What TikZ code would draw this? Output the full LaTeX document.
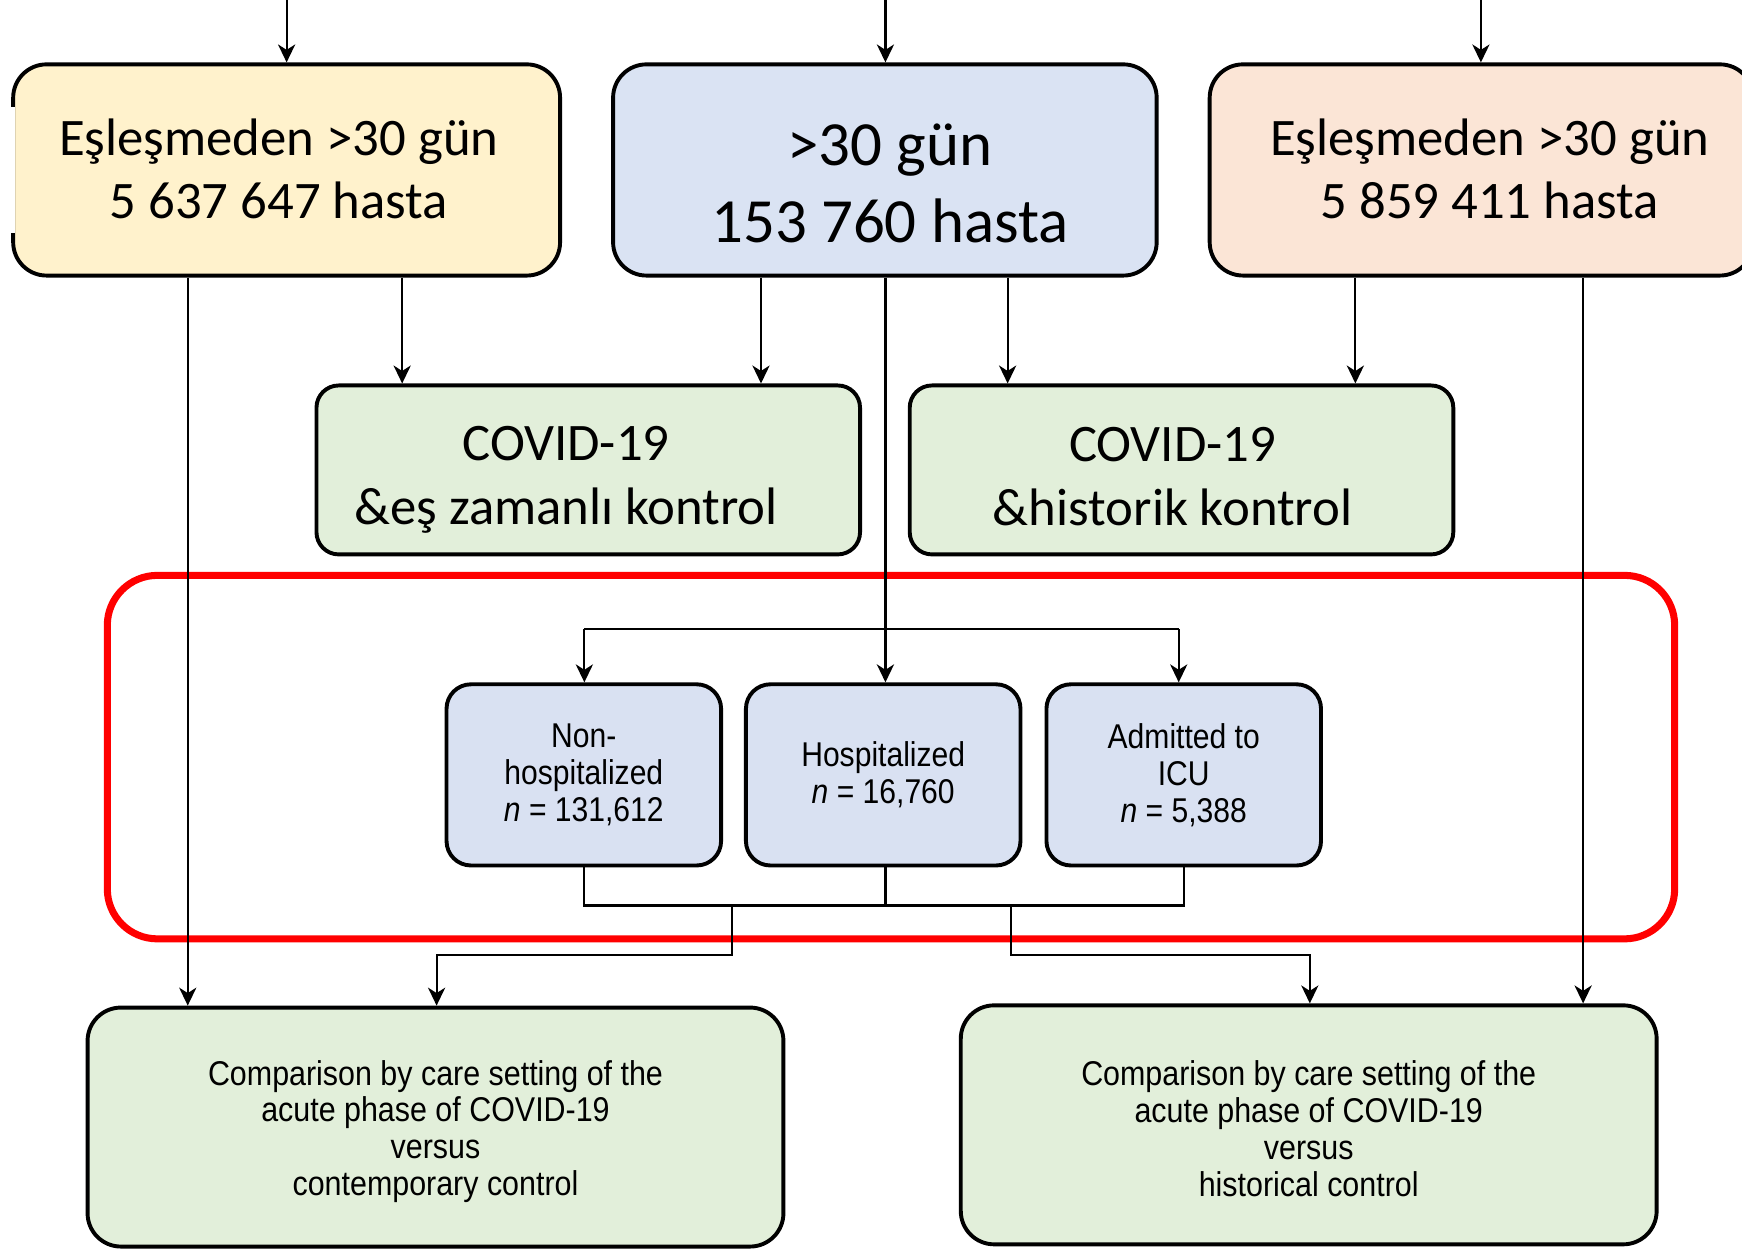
\documentclass[tikz,border=0pt]{standalone}
\usepackage{fontspec}
\setmainfont{Carlito}
\newfontfamily\arialn[FakeStretch=0.875]{Liberation Sans}
\newfontfamily\arialnb[FakeStretch=0.885]{Liberation Sans}
\usetikzlibrary{arrows.meta}
\definecolor{cyellow}{HTML}{FFF2CC}
\definecolor{cblue}{HTML}{DAE3F3}
\definecolor{cpeach}{HTML}{FBE5D6}
\definecolor{cgreen}{HTML}{E2EFDA}
\definecolor{csmall}{HTML}{D9E1F2}
\definecolor{cred}{HTML}{FF0000}
\begin{document}
\begin{tikzpicture}[x=0.01cm,y=-0.01cm,
  box/.style={draw=black, line width=1pt, inner sep=0pt},
  topbox/.style={box, rounded corners=0.3cm, minimum height=1.90cm},
  midbox/.style={box, rounded corners=0.2cm, fill=cgreen, minimum width=4.89cm, minimum height=1.52cm},
  smallbox/.style={box, rounded corners=0.22cm, fill=csmall, minimum width=2.47cm, minimum height=1.63cm,
     font=\arialn\fontsize{8.8}{9.5}\selectfont, align=center},
  botbox/.style={box, rounded corners=0.3cm, fill=cgreen, minimum width=6.26cm, minimum height=2.15cm},
  bottxt/.style={inner sep=0pt, align=center, font=\arialnb\fontsize{8.8}{9.45}\selectfont},
  ttxt/.style={inner sep=0pt, align=center, font=\fontsize{13.5}{16.2}\selectfont},
  btxt/.style={inner sep=0pt, align=center, font=\fontsize{16.1}{19.6}\selectfont},
  grp/.style={draw=cred, line width=1.8pt, rounded corners=0.45cm, minimum width=14.10cm, minimum height=3.27cm, inner sep=0pt},
  ln/.style={line width=0.55pt},
  arr/.style={ln, -{Stealth[length=4.6pt, width=4.4pt, inset=1.4pt]}}]
\useasboundingbox (0,0) rectangle (1568,1128);
\clip (0,0) rectangle (1568,1128);
\fill[white] (0,0) rectangle (1568,1128);

% red group frame (behind the connectors)
\node[grp] (grp) at (802,681.5) {};

% top boxes
\node[topbox, fill=cyellow, minimum width=4.92cm] (A) at (258,153) {};
\fill[white] (9,96) rectangle (13.6,210);
\node[ttxt] (At) at (251,152) {Eşleşmeden >30 gün\\5 637 647 hasta};
\node[topbox, fill=cblue, minimum width=4.89cm] (B) at (796.5,153) {};
\node[btxt] (Bt) at (801,165) {>30 gün\\153 760 hasta};
\node[topbox, fill=cpeach, minimum width=4.89cm] (C) at (1333.5,153) {};
\node[ttxt] (Ct) at (1341,152) {Eşleşmeden >30 gün\\5 859 411 hasta};

% middle boxes
\node[midbox] (D) at (529.5,423) {};
\node[ttxt] (Dt) at (509.5,432) {COVID-19\\\&eş zamanlı kontrol};
\node[midbox] (E) at (1063.5,423) {};
\node[ttxt] (Et) at (1055.5,429) {COVID-19\\\&historik kontrol};

% care-setting boxes
\node[smallbox] (F) at (525.5,697.5) {Non-\\hospitalized\\\textit{n} = 131,612};
\node[smallbox] (G) at (795,697.5) {Hospitalized\\\textit{n} = 16,760};
\node[smallbox] (H) at (1065.5,697.5) {Admitted to\\ICU\\\textit{n} = 5,388};

% bottom boxes
\node[botbox] (I) at (392,1014.5) {};
\node[bottxt] (It) at (392,1018.5) {Comparison by care setting of the\\acute phase of COVID-19\\versus\\contemporary control};
\node[botbox] (J) at (1178,1012.5) {};
\node[bottxt] (Jt) at (1178,1016) {Comparison by care setting of the\\acute phase of COVID-19\\versus\\historical control};

% helper coordinates
\coordinate (t1) at (258,0);
\coordinate (t2) at (797,0);
\coordinate (t3) at (1333,0);
\coordinate (xa1) at (169,0);
\coordinate (xa2) at (362,0);
\coordinate (xb1) at (685,0);
\coordinate (xb2) at (797,0);
\coordinate (xb3) at (907,0);
\coordinate (xc1) at (1220,0);
\coordinate (xc2) at (1425,0);
\coordinate (spF) at (526,566);
\coordinate (spH) at (1061,566);
\coordinate (cF) at (526,815);
\coordinate (cH) at (1066,815);
\coordinate (m1) at (659,815);
\coordinate (m1b) at (659,860);
\coordinate (m1c) at (393,860);
\coordinate (m2) at (910,815);
\coordinate (m2b) at (910,860);
\coordinate (m2c) at (1179,860);

% incoming arrows from above
\draw[arr] (t1) -- (A.north -| t1);
\draw[arr] (t2) -- (B.north -| t2);
\draw[arr] (t3) -- (C.north -| t3);

% from top boxes
\draw[arr] (A.south -| xa1) -- (I.north -| xa1);
\draw[arr] (A.south -| xa2) -- (D.north -| xa2);
\draw[arr] (B.south -| xb1) -- (D.north -| xb1);
\draw[arr] (B.south -| xb2) -- (G.north -| xb2);
\draw[arr] (B.south -| xb3) -- (E.north -| xb3);
\draw[arr] (C.south -| xc1) -- (E.north -| xc1);
\draw[arr] (C.south -| xc2) -- (J.north -| xc2);

% split to care settings
\draw[ln] (spF) -- (spH);
\draw[arr] (spF) -- (F.north -| spF);
\draw[arr] (spH) -- (H.north -| spH);

% merge from care settings
\draw[ln] (F.south -| cF) -- (cF) -- (cH) -- (H.south -| cH);
\draw[ln] (G.south -| xb2) -- (cF -| xb2);
\draw[arr] (m1) -- (m1b) -- (m1c) -- (I.north -| m1c);
\draw[arr] (m2) -- (m2b) -- (m2c) -- (J.north -| m2c);
\end{tikzpicture}
\end{document}
